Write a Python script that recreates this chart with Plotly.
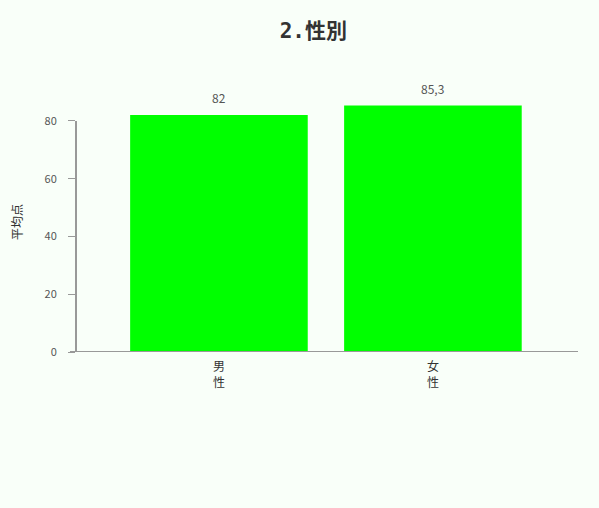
import plotly.graph_objects as go

categories = ["男<br>性", "女<br>性"]
values = [82, 85.3]
value_labels = ["82", "85,3"]
y_ticks = [0, 20, 40, 60, 80]

bg = "#f9fff9"
font = "Noto Sans CJK JP"

fig = go.Figure()
fig.add_trace(go.Bar(
    x=[0, 1], y=values, width=0.83,
    marker=dict(color="#00ff00", line=dict(width=0)),
    cliponaxis=False,
))

for i, (v, t) in enumerate(zip(values, value_labels)):
    fig.add_annotation(x=i, y=v, text=t, showarrow=False, yanchor="bottom",
                       yshift=7, font=dict(size=12, color="#555555", family=font))

fig.update_layout(
    width=599, height=508,
    paper_bgcolor=bg, plot_bgcolor=bg,
    margin=dict(l=76, r=21, t=92, b=156),
    showlegend=False,
    title=dict(text="<b>2.性別</b>", x=0.523, xref="container", xanchor="center",
               y=0.94, yref="container", yanchor="middle",
               font=dict(size=21, color="#333333",
                         family="DejaVu Sans Mono, Noto Sans CJK JP")),
    font=dict(family=font),
    xaxis=dict(range=[-0.668, 1.678], tickvals=[0, 1], ticktext=categories,
               showgrid=False, zeroline=False, showline=False, ticks="",
               ticklabelstandoff=6,
               tickfont=dict(size=12, color="#333333", family=font)),
    yaxis=dict(range=[0, 90], tickvals=y_ticks, showgrid=False, zeroline=False,
               showline=False, ticks="outside", ticklen=7, tickcolor="#999999",
               tickwidth=1, ticklabelstandoff=9,
               tickfont=dict(size=11, color="#555555", family=font),
               title=dict(text="平均点", font=dict(size=12, color="#333333", family=font),
                          standoff=19)),
    bargap=0.17,
)

# axis lines
fig.add_shape(type="line", xref="paper", yref="y", x0=0, x1=0, y0=0, y1=max(y_ticks),
              line=dict(color="#999999", width=2))
fig.add_shape(type="line", xref="paper", yref="y", x0=-0.012, x1=1, y0=0, y1=0,
              line=dict(color="#999999", width=2))

fig.write_html("out.html", config={"displayModeBar": False},
               post_script="document.body.style.margin='0';document.body.style.background='%s';" % bg)
